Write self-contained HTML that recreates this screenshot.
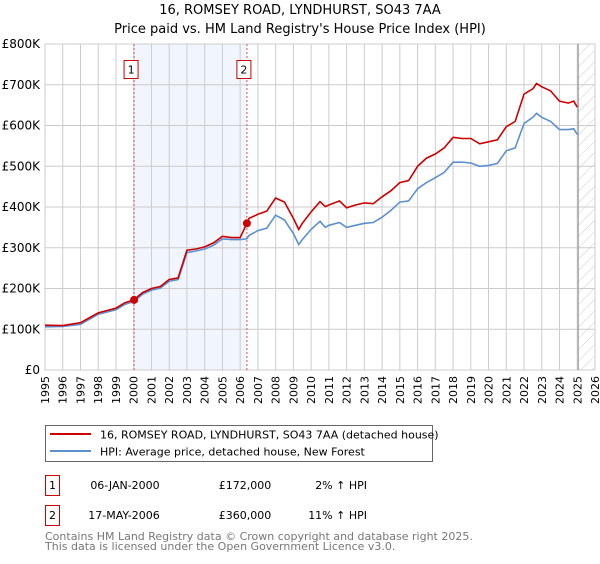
<!DOCTYPE html>
<html><head><meta charset="utf-8"><style>
body{margin:0;background:#fff;font-family:"DejaVu Sans","Liberation Sans",sans-serif;}
svg text{font-family:"DejaVu Sans","Liberation Sans",sans-serif;}
</style></head><body>
<svg id="chart" width="600" height="560" viewBox="0 0 600 560" xmlns="http://www.w3.org/2000/svg">
<defs><pattern id="hatch" patternUnits="userSpaceOnUse" width="8" height="8" patternTransform="rotate(45)"><line x1="0" y1="0" x2="0" y2="8" stroke="#ccc" stroke-width="1"/></pattern></defs>
<text x="300" y="14" text-anchor="middle" font-size="13">16, ROMSEY ROAD, LYNDHURST, SO43 7AA</text>
<text x="300" y="33" text-anchor="middle" font-size="13">Price paid vs. HM Land Registry's House Price Index (HPI)</text>
<g id="plot"></g>
<rect x="45.5" y="425.5" width="387" height="36" fill="#fff" stroke="#666"/>
<line x1="50" y1="434" x2="91" y2="434" stroke="#cc0000" stroke-width="2"/>
<text x="100" y="438.5" font-size="11">16, ROMSEY ROAD, LYNDHURST, SO43 7AA (detached house)</text>
<line x1="50" y1="451" x2="91" y2="451" stroke="#5b8fd0" stroke-width="2"/>
<text x="100" y="455.5" font-size="11">HPI: Average price, detached house, New Forest</text>
<g font-size="11">
<rect x="45.5" y="475.5" width="14" height="20" fill="#fff" stroke="#cc0000"/>
<text x="52.5" y="489" text-anchor="middle">1</text>
<text x="125" y="489" text-anchor="middle">06-JAN-2000</text>
<text x="245" y="489" text-anchor="middle">£172,000</text>
<text x="367" y="489" text-anchor="end">2% ↑ HPI</text>
</g>
<g font-size="11">
<rect x="45.5" y="505.5" width="14" height="20" fill="#fff" stroke="#cc0000"/>
<text x="52.5" y="519" text-anchor="middle">2</text>
<text x="124" y="519" text-anchor="middle">17-MAY-2006</text>
<text x="245" y="519" text-anchor="middle">£360,000</text>
<text x="367" y="519" text-anchor="end">11% ↑ HPI</text>
</g>
<text x="45" y="540" font-size="11" fill="#777">Contains HM Land Registry data © Crown copyright and database right 2025.</text>
<text x="45" y="550" font-size="11" fill="#777">This data is licensed under the Open Government Licence v3.0.</text>
</svg>
<script>
const years=[1995,1996,1997,1998,1999,1999.5,2000,2000.5,2001,2001.5,2002,2002.5,2002.75,2003,2003.5,2004,2004.5,2005,2005.5,2006,2006.38,2006.5,2007,2007.5,2008,2008.5,2009,2009.3,2009.5,2010,2010.5,2010.8,2011,2011.6,2012,2012.5,2013,2013.5,2014,2014.5,2015,2015.5,2016,2016.5,2017,2017.5,2018,2018.5,2019,2019.5,2020,2020.5,2021,2021.5,2022,2022.5,2022.7,2023,2023.5,2024,2024.5,2024.8,2025];
const propertyValues=[110,109,116,140,152,165,172,190,200,205,222,226,260,294,297,302,312,328,325,325,360,372,382,390,422,412,372,345,360,388,413,401,405,415,398,405,410,408,425,440,460,465,500,520,530,545,571,568,568,555,560,565,597,610,677,690,703,695,685,660,655,660,645];
const hpiValues=[106,107,112,137,148,161,168,186,196,201,218,222,255,288,292,297,306,322,320,320,322,330,342,348,380,368,335,308,320,345,365,350,355,362,350,355,360,362,375,392,412,415,445,460,472,485,510,510,508,500,502,507,538,545,605,620,630,620,610,590,590,592,578];
const yTicks=[0,100,200,300,400,500,600,700,800];
const yTickLabels=["£0","£100K","£200K","£300K","£400K","£500K","£600K","£700K","£800K"];
const saleYears=[2000.02,2006.38];
const salePrices=[172,360];
const saleLabels=["1","2"];
const NS="http://www.w3.org/2000/svg";
const X0=45,X1=595,Y0=370,Y1=44,YMIN=1995,YMAX=2026,VMAX=800;
const xs=y=>X0+(y-YMIN)/(YMAX-YMIN)*(X1-X0);
const ys=v=>Y0-v/VMAX*(Y0-Y1);
const plot=document.getElementById('plot');
function mk(t,a){const e=document.createElementNS(NS,t);for(const k in a)e.setAttribute(k,a[k]);plot.appendChild(e);return e;}
let r=mk('rect',{x:xs(saleYears[0]),y:Y1,width:xs(saleYears[1])-xs(saleYears[0]),height:Y0-Y1,fill:'#eef3fc',opacity:0.8});


for(let yr=YMIN;yr<=YMAX;yr++){
 const g=mk('line',{x1:xs(yr),x2:xs(yr),y1:Y1,y2:Y0,stroke:'#ccc','stroke-width':1});
 
 
 const t=mk('text',{x:0,y:0,'font-size':11,'text-anchor':'end',transform:`translate(${xs(yr)+4},376) rotate(-90)`});
 t.textContent=yr;
 
 
}
yTicks.forEach((v,i)=>{
 const g=mk('line',{x1:X0,x2:X1,y1:ys(v),y2:ys(v),stroke:'#ccc','stroke-width':1});
 
 
 const t=mk('text',{x:40,y:ys(v)+4,'font-size':12,'text-anchor':'end'});
 t.textContent=yTickLabels[i];
 
 
});
let h=mk('rect',{x:xs(2025.05),y:Y1,width:X1-xs(2025.05),height:Y0-Y1,fill:'url(#hatch)'});


let hl=mk('line',{x1:xs(2025.05),x2:xs(2025.05),y1:Y1,y2:Y0,stroke:'#888','stroke-width':1});


saleYears.forEach((yr,i)=>{
 const l=mk('line',{x1:xs(yr),x2:xs(yr),y1:Y1,y2:Y0,stroke:'#e05050','stroke-width':1,'stroke-dasharray':'2,2'});
 
 
 const b=mk('rect',{x:xs(yr)-10,y:60.5,width:14,height:18,fill:'#fff',stroke:'#cc0000'});
 
 
 const t=mk('text',{x:xs(yr)-3,y:73.5,'font-size':11,'text-anchor':'middle'});
 t.textContent=saleLabels[i];
 
 
});
function path(vals){return vals.map((v,i)=>(i?'L':'M')+xs(years[i]).toFixed(1)+','+ys(v).toFixed(1)).join('');}
const hp=mk('path',{d:path(hpiValues),fill:'none',stroke:'#5b8fd0','stroke-width':1.6});


const pp=mk('path',{d:path(propertyValues),fill:'none',stroke:'#cc0000','stroke-width':1.6});


saleYears.forEach((yr,i)=>{
 const c=mk('circle',{cx:xs(yr),cy:ys(salePrices[i]),r:4,fill:'#cc0000'});
 
 
});
</script>
</body></html>
